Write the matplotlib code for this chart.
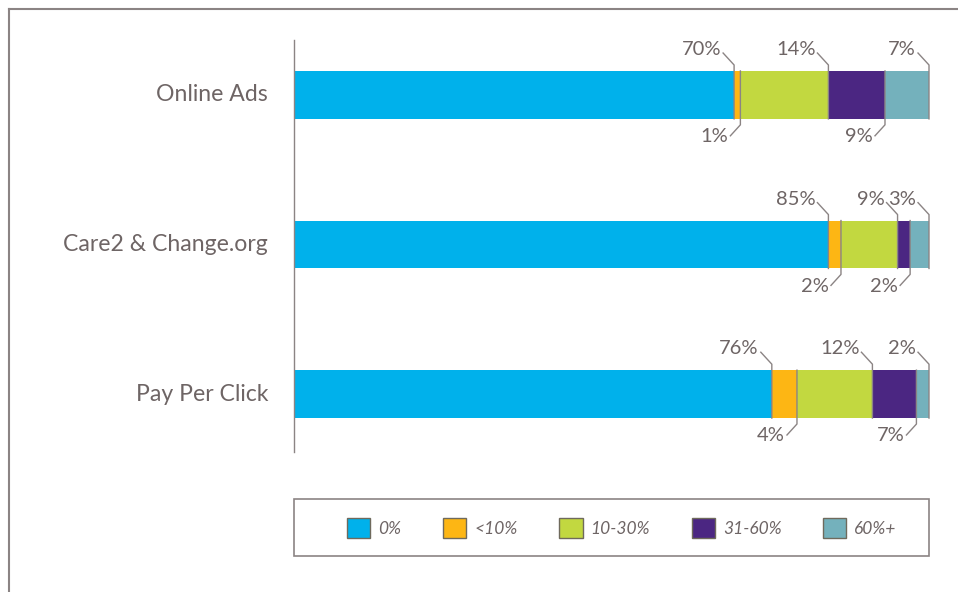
import numpy as np
import matplotlib.pyplot as plt
from matplotlib.lines import Line2D
from matplotlib.patches import Patch

plt.rcParams['font.family'] = ['Lato', 'DejaVu Sans']

# ------------------------------------------------------------
# data
categories = ["Online Ads", "Care2 & Change.org", "Pay Per Click"]
buckets = ["0%", "<10%", "10-30%", "31-60%", "60%+"]
shares = {
    "Online Ads": [70, 1, 14, 9, 7],
    "Care2 & Change.org": [85, 2, 9, 2, 3],
    "Pay Per Click": [76, 4, 12, 7, 2],
}
colors = ["#00b1eb", "#fdb614", "#c2d840", "#4b2682", "#74b1bc"]

text_col = "#6e6565"
line_col = "#8b8484"

# ------------------------------------------------------------
# figure, axes placed in pixel terms (958 x 592)
W, H = 958, 592
fig = plt.figure(figsize=(W / 100, H / 100), dpi=100)
ax_l, ax_r, ax_t, ax_b = 294, 929, 40, 452
ax = fig.add_axes([ax_l / W, 1 - ax_b / H, (ax_r - ax_l) / W, (ax_b - ax_t) / H])
ax.set_xlim(0, 1)
ax.set_ylim(-0.387, 2.367)
for s in ["top", "right", "bottom"]:
    ax.spines[s].set_visible(False)
ax.spines["left"].set_color(line_col)
ax.spines["left"].set_linewidth(1)
ax.set_xticks([])
ax.set_yticks([])

px_x = 1.0 / (ax_r - ax_l)  # data units per pixel
px_y = 1.0 / 150
bar_h = 48 * px_y
hh = bar_h / 2

ypos = [2, 1, 0]
for cat, yc in zip(categories, ypos):
    vals = np.array(shares[cat], dtype=float)
    frac = vals / vals.sum()
    left = 0.0
    for i, (f, v) in enumerate(zip(frac, vals)):
        ax.barh(yc, f, left=left, height=bar_h, color=colors[i], edgecolor="none", zorder=2)
        b = left + f
        lab = "%d%%" % v
        if i % 2 == 0:
            # label above the bar
            xs = [b, b, b - 11 * px_x]
            ys = [yc - hh, yc + hh + 6 * px_y, yc + hh + 18 * px_y]
            ax.plot(xs, ys, color=line_col, lw=1, zorder=3, clip_on=False)
            ax.text(b - 13 * px_x, yc + hh + 16 * px_y, lab, ha="right", va="baseline",
                    fontsize=14.5, color=text_col)
        else:
            # label below the bar
            xs = [b, b, b - 10 * px_x]
            ys = [yc + hh, yc - hh - 6 * px_y, yc - hh - 17 * px_y]
            ax.plot(xs, ys, color=line_col, lw=1, zorder=3, clip_on=False)
            ax.text(b - 12 * px_x, yc - hh - 18 * px_y, lab, ha="right", va="center",
                    fontsize=14.5, color=text_col)
        left = b
    ax.text(-26 * px_x, yc, cat, ha="right", va="center", fontsize=16.6, color=text_col)

# ------------------------------------------------------------
# outer frame (top and left edges)
fig.add_artist(Line2D([9 / W, 9 / W], [0, 1 - 9 / H], color=line_col, lw=1.5))
fig.add_artist(Line2D([9 / W, 1], [1 - 9 / H, 1 - 9 / H], color=line_col, lw=1.5))

# legend box
lb_l, lb_r, lb_t, lb_b = 294, 929, 499, 556
fig.add_artist(plt.Rectangle((lb_l / W, 1 - lb_b / H), (lb_r - lb_l) / W, (lb_b - lb_t) / H,
                             fill=False, edgecolor=line_col, lw=1.2))
handles = [Patch(facecolor=c, edgecolor="#6f6a5c", lw=1) for c in colors]
leg = fig.legend(handles, buckets, loc="center left", ncol=5,
                 bbox_to_anchor=(347 / W, 1 - 528 / H), frameon=False,
                 borderpad=0, borderaxespad=0, handlelength=1.35, handleheight=1.35,
                 handletextpad=0.45, columnspacing=2.4,
                 prop={"size": 12.5, "style": "italic"})
for t in leg.get_texts():
    t.set_color(text_col)

fig.savefig("out.png", dpi=100)
